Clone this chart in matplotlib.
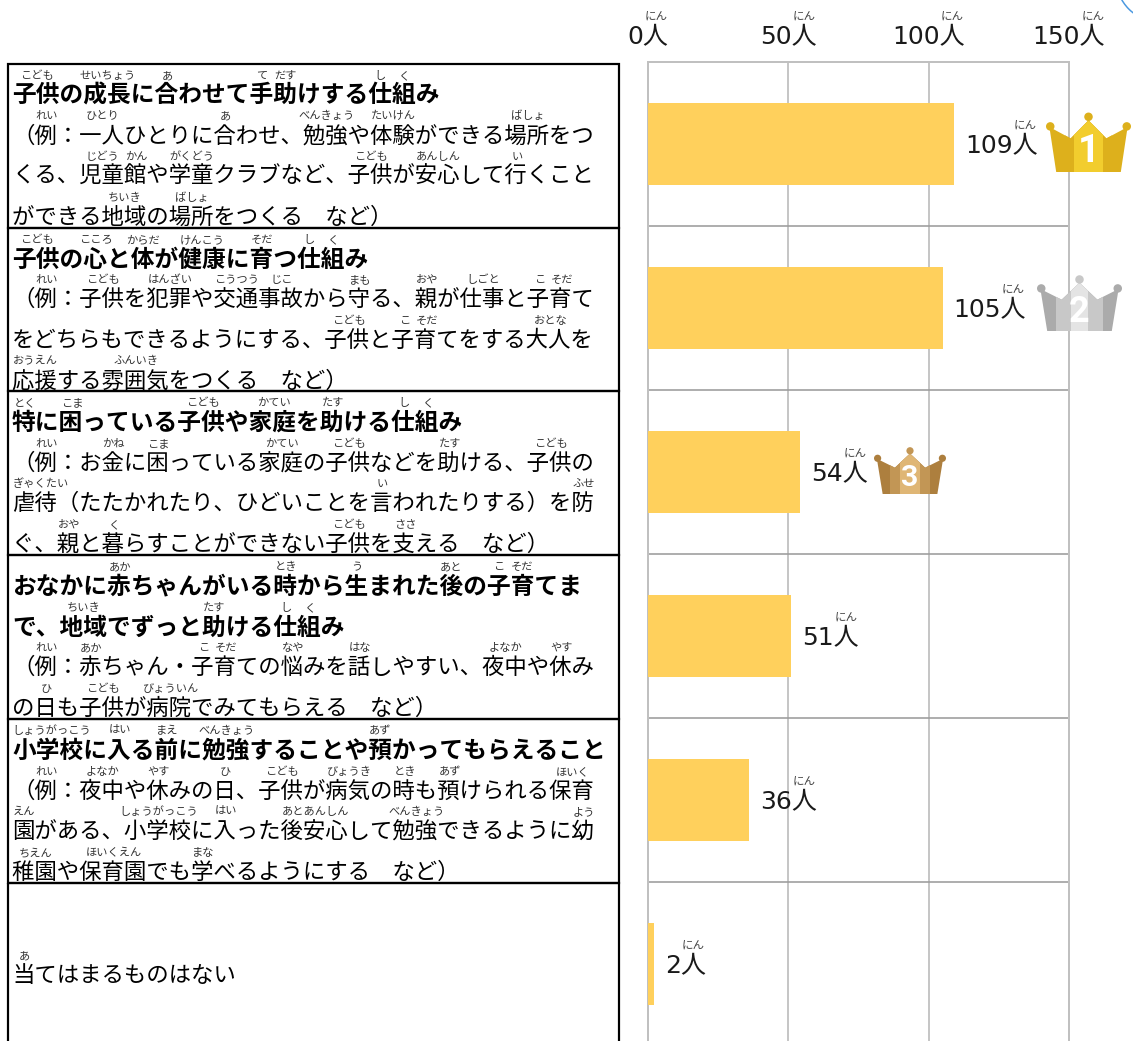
import matplotlib
matplotlib.use("Agg")
import matplotlib.pyplot as plt
from matplotlib.patches import Polygon, Rectangle, Circle

JP = "Noto Sans CJK JP"
MIXED = ["DejaVu Sans", JP]
plt.rcParams["font.family"] = [JP, "DejaVu Sans"]

W, H = 1133, 1041
PX = 72 / 100  # pixels to points at dpi 100

# -------------------------------
# data
# -------------------------------
counts = [109, 105, 54, 51, 36, 2]
ticks = [0, 50, 100, 150]
tick_labels = ["0人", "50人", "100人", "150人"]
unit_ruby = "にん"

# (text, bold, [(word, reading), ...])
row1 = [
    ("子供の成長に合わせて手助けする仕組み", True,
     [("子供", "こども"), ("成長", "せいちょう"), ("合", "あ"), ("手", "て"), ("助", "だす"), ("仕", "し"), ("組", "く")]),
    ("（例：一人ひとりに合わせ、勉強や体験ができる場所をつ", False,
     [("例", "れい"), ("一人", "ひとり"), ("合", "あ"), ("勉強", "べんきょう"), ("体験", "たいけん"), ("場所", "ばしょ")]),
    ("くる、児童館や学童クラブなど、子供が安心して行くこと", False,
     [("児童", "じどう"), ("館", "かん"), ("学童", "がくどう"), ("子供", "こども"), ("安心", "あんしん"), ("行", "い")]),
    ("ができる地域の場所をつくる　など）", False,
     [("地域", "ちいき"), ("場所", "ばしょ")]),
]
row2 = [
    ("子供の心と体が健康に育つ仕組み", True,
     [("子供", "こども"), ("心", "こころ"), ("体", "からだ"), ("健康", "けんこう"), ("育", "そだ"), ("仕", "し"), ("組", "く")]),
    ("（例：子供を犯罪や交通事故から守る、親が仕事と子育て", False,
     [("例", "れい"), ("子供", "こども"), ("犯罪", "はんざい"), ("交通", "こうつう"), ("事故", "じこ"), ("守", "まも"),
      ("親", "おや"), ("仕事", "しごと"), ("子", "こ"), ("育", "そだ")]),
    ("をどちらもできるようにする、子供と子育てをする大人を", False,
     [("子供", "こども"), ("子", "こ"), ("育", "そだ"), ("大人", "おとな")]),
    ("応援する雰囲気をつくる　など）", False,
     [("応援", "おうえん"), ("雰囲気", "ふんいき")]),
]
row3 = [
    ("特に困っている子供や家庭を助ける仕組み", True,
     [("特", "とく"), ("困", "こま"), ("子供", "こども"), ("家庭", "かてい"), ("助", "たす"), ("仕", "し"), ("組", "く")]),
    ("（例：お金に困っている家庭の子供などを助ける、子供の", False,
     [("例", "れい"), ("金", "かね"), ("困", "こま"), ("家庭", "かてい"), ("子供", "こども"), ("助", "たす"), ("子供", "こども")]),
    ("虐待（たたかれたり、ひどいことを言われたりする）を防", False,
     [("虐待", "ぎゃくたい"), ("言", "い"), ("防", "ふせ")]),
    ("ぐ、親と暮らすことができない子供を支える　など）", False,
     [("親", "おや"), ("暮", "く"), ("子供", "こども"), ("支", "ささ")]),
]
row4 = [
    ("おなかに赤ちゃんがいる時から生まれた後の子育てま", True,
     [("赤", "あか"), ("時", "とき"), ("生", "う"), ("後", "あと"), ("子", "こ"), ("育", "そだ")]),
    ("で、地域でずっと助ける仕組み", True,
     [("地域", "ちいき"), ("助", "たす"), ("仕", "し"), ("組", "く")]),
    ("（例：赤ちゃん・子育ての悩みを話しやすい、夜中や休み", False,
     [("例", "れい"), ("赤", "あか"), ("子", "こ"), ("育", "そだ"), ("悩", "なや"), ("話", "はな"), ("夜中", "よなか"), ("休", "やす")]),
    ("の日も子供が病院でみてもらえる　など）", False,
     [("日", "ひ"), ("子供", "こども"), ("病院", "びょういん")]),
]
row5 = [
    ("小学校に入る前に勉強することや預かってもらえること", True,
     [("小学校", "しょうがっこう"), ("入", "はい"), ("前", "まえ"), ("勉強", "べんきょう"), ("預", "あず")]),
    ("（例：夜中や休みの日、子供が病気の時も預けられる保育", False,
     [("例", "れい"), ("夜中", "よなか"), ("休", "やす"), ("日", "ひ"), ("子供", "こども"), ("病気", "びょうき"),
      ("時", "とき"), ("預", "あず"), ("保育", "ほいく")]),
    ("園がある、小学校に入った後安心して勉強できるように幼", False,
     [("園", "えん"), ("小学校", "しょうがっこう"), ("入", "はい"), ("後安心", "あとあんしん"), ("勉強", "べんきょう"), ("幼", "よう")]),
    ("稚園や保育園でも学べるようにする　など）", False,
     [("稚園", "ちえん"), ("保育園", "ほいくえん"), ("学", "まな")]),
]
row6 = [
    ("当てはまるものはない", False, [("当", "あ")]),
]
rows = [row1, row2, row3, row4, row5, row6]
line_centers = [
    [94, 134, 175, 216],
    [258, 298, 339, 379],
    [421, 462, 502, 543],
    [585, 626, 666, 707],
    [749, 790, 830, 871],
    [974],
]

BAR_COLOR = "#FFD05C"
GOLD = ["#DDB01C", "#DDB01C", "#F2CD2E"]
SILVER = ["#ABABAB", "#C8C8C8", "#E4E4E4"]
BRONZE = ["#AD7F3E", "#C29655", "#DFB675"]

fig = plt.figure(figsize=(W / 100, H / 100), dpi=100, facecolor="white")

# -------------------------------
# bar chart
# -------------------------------
ax = fig.add_axes([648.3 / W, 0, 420.4 / W, (H - 62) / H])
ax.barh(range(len(counts)), counts, height=0.5, color=BAR_COLOR, zorder=3)
ax.set_xlim(0, 150)
ax.set_ylim(5.47, -0.5)

ax.xaxis.tick_top()
ax.set_xticks(ticks)
ax.set_xticklabels(tick_labels, family=MIXED, fontsize=25 * PX, color="#1A1A1A")
ax.set_yticks([])
ax.set_yticks([0.5, 1.5, 2.5, 3.5, 4.5], minor=True)
ax.tick_params(axis="x", length=0, pad=9)
ax.tick_params(axis="y", which="minor", length=0)
ax.grid(axis="x", color="#C6C6C6", lw=2 * PX, zorder=1)
ax.grid(axis="y", which="minor", color="#9C9C9C", lw=1.6 * PX, zorder=1)
for name in ["top", "left", "right"]:
    ax.spines[name].set_color("#C0C0C0")
    ax.spines[name].set_linewidth(2 * PX)
ax.spines["bottom"].set_visible(False)


def label_width(s):
    return (len(s) - 1) * 16 + 24


for t, s in zip(ticks, tick_labels):
    ax.annotate(unit_ruby, xy=(t, 1), xycoords=("data", "axes fraction"),
                xytext=((label_width(s) / 2 - 12) * PX, 46 * PX), textcoords="offset points",
                ha="center", va="center", fontsize=11.5 * PX, color="#444444", annotation_clip=False)

for i, v in enumerate(counts):
    s = f"{v}人"
    ax.annotate(s, xy=(v, i), xytext=(11 * PX, -2 * PX), textcoords="offset points",
                ha="left", va="center", family=MIXED, fontsize=25 * PX, color="#1A1A1A",
                annotation_clip=False, zorder=5)
    ax.annotate(unit_ruby, xy=(v, i), xytext=((11 + label_width(s) - 12) * PX, 19 * PX),
                textcoords="offset points", ha="center", va="center",
                fontsize=11.5 * PX, color="#444444", annotation_clip=False, zorder=5)

# -------------------------------
# overlay in pixel coordinates
# -------------------------------
ov = fig.add_axes([0, 0, 1, 1], zorder=10)
ov.set_xlim(0, W)
ov.set_ylim(H, 0)
ov.axis("off")
ov.patch.set_alpha(0)

# boxes
edges = [64, 228, 391, 555, 719, 883, 1060]
for top, bottom in zip(edges[:-1], edges[1:]):
    ov.add_patch(Rectangle((7.5, top), 611, bottom - top, fill=False, ec="black", lw=2.2 * PX))

LEFT = 12
RUBY_EM = 11.2
for row, centers in zip(rows, line_centers):
    for (text, bold, rubies), cy in zip(row, centers):
        em = 23.7 if bold else 22.4
        ov.text(LEFT, cy + 0.36 * em, text, fontsize=em * PX, ha="left", va="baseline", color="black",
                family=JP, fontweight="bold" if bold else "normal")
        pos = 0
        for word, reading in rubies:
            idx = text.find(word, pos)
            pos = idx + len(word)
            cx = LEFT + 1 + (idx + len(word) / 2) * em
            # long readings stay inside the box on the left
            cx = max(cx, 13 + len(reading) * RUBY_EM / 2)
            ov.text(cx, cy - 18, reading, fontsize=RUBY_EM * PX, ha="center", va="center",
                    color="#333333", family=JP)


def crown(x0, y0, w, h, colors, num, mid_band):
    dark, mid, light = colors
    outline = [(.04, .25), (.29, .44), (.5, .14), (.71, .44), (.96, .25), (.88, 1), (.12, 1)]
    pts = [(x0 + u * w, y0 + v * h) for u, v in outline]
    body = Polygon(pts, closed=True, fc=dark, ec="none", zorder=20)
    ov.add_patch(body)
    for u0, u1, c in [(.22, .78, mid), (.5 - mid_band, .5 + mid_band, light)]:
        band = Rectangle((x0 + u0 * w, y0), (u1 - u0) * w, h, fc=c, ec="none", zorder=21)
        ov.add_patch(band)
        band.set_clip_path(body)
    for (u, v), c in [((.05, .24), dark), ((.5, .08), mid), ((.95, .24), dark)]:
        ov.add_patch(Circle((x0 + u * w, y0 + v * h), 0.05 * w, fc=c, ec="none", zorder=22))
    ov.text(x0 + .5 * w, y0 + .66 * h, num, fontsize=.64 * h * PX, fontweight="bold", family="Roboto",
            color="white", ha="center", va="center", zorder=23)


crown(1046, 112, 85, 60, GOLD, "1", .17)
crown(1037, 275, 85, 56, SILVER, "2", .1)
crown(874, 447, 72, 47, BRONZE, "3", .14)

# corner arc
ov.add_patch(Circle((1160, -22), 44, fill=False, ec="#4A98E0", lw=1.5 * PX, zorder=5, clip_on=True))

fig.savefig("out.png", dpi=100)
